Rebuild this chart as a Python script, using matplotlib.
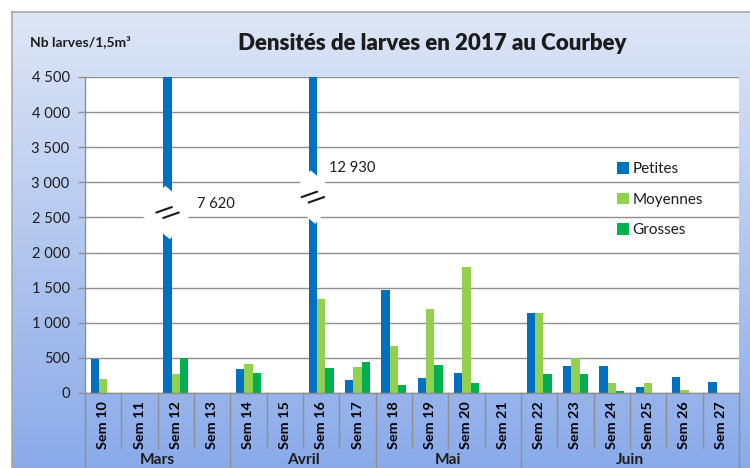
import numpy as np
import matplotlib
matplotlib.use("Agg")
import matplotlib.pyplot as plt
from matplotlib.patches import Polygon
from matplotlib.lines import Line2D
import matplotlib.transforms as mtransforms

# ---- data -------------------------------------------------------------
weeks = ["Sem 10", "Sem 11", "Sem 12", "Sem 13", "Sem 14", "Sem 15",
         "Sem 16", "Sem 17", "Sem 18", "Sem 19", "Sem 20", "Sem 21",
         "Sem 22", "Sem 23", "Sem 24", "Sem 25", "Sem 26", "Sem 27"]
months = ["Mars", "Avril", "Mai", "Juin"]
weeks_per_month = [4, 4, 4, 6]

series_names = ["Petites", "Moyennes", "Grosses"]
petites = [490, 0, 7620, 0, 340, 0, 12930, 180, 1470, 215, 290, 0,
           1140, 380, 380, 85, 230, 160]
moyennes = [195, 0, 265, 0, 415, 0, 1340, 375, 670, 1190, 1800, 0,
            1140, 505, 140, 140, 45, 0]
grosses = [0, 0, 505, 0, 290, 0, 360, 435, 120, 400, 140, 0,
           270, 270, 30, 0, 0, 0]

y_ticks = [0, 500, 1000, 1500, 2000, 2500, 3000, 3500, 4000, 4500]
y_max = 4500

title = "Densités de larves en 2017 au Courbey"
y_unit = "Nb larves/1,5m³"

# ---- style ------------------------------------------------------------
colors = ["#0070C0", "#92D050", "#00B050"]
FONT = ["Lato", "DejaVu Sans"]
plt.rcParams["font.family"] = FONT
TXT = "#1c1c1c"
GRID = "#8f8f8f"

W, H = 750, 468
fig = plt.figure(figsize=(W / 100, H / 100), dpi=100)
fig.patch.set_facecolor("white")

# chart frame with vertical blue gradient
bg = fig.add_axes([12 / W, 0, 1 - 12 / W, 1 - 12 / H])
top_c = np.array([222, 230, 246]) / 255
bot_c = np.array([138, 170, 233]) / 255
t = np.linspace(0, 1, 256)[:, None]
grad = top_c[None, :] * (1 - t) + bot_c[None, :] * t
bg.imshow(grad[:, None, :], aspect="auto", extent=[0, 1, 0, 1],
          interpolation="bilinear")
bg.set_axis_off()
fig.add_artist(Line2D([12 / W, 12 / W], [0, 1 - 12 / H], color="#a9a9a9",
                      lw=1.2))
fig.add_artist(Line2D([12 / W, 1], [1 - 12 / H, 1 - 12 / H], color="#a9a9a9",
                      lw=1.2))

# plotting area
L, R, T, B = 85, 739, 77, 393
ax = fig.add_axes([L / W, 1 - B / H, (R - L) / W, (B - T) / H])
ax.set_facecolor("white")

n = len(weeks)
x = np.arange(n)
bw = 0.228
series = [petites, moyennes, grosses]
offsets = [-bw, 0, bw]
for vals, name, col, off in zip(series, series_names, colors, offsets):
    ax.bar(x + off, vals, width=bw, color=col, label=name, zorder=2,
           linewidth=0)

ax.set_xlim(-0.5, n - 0.5)
ax.set_ylim(0, y_max)
ax.set_yticks(y_ticks)
ax.set_yticklabels([f"{v:,}".replace(",", " ") for v in y_ticks],
                   fontsize=10.6, color=TXT)
ax.tick_params(axis="y", direction="out", length=5, width=1, color=GRID,
               pad=6.0)
ax.set_axisbelow(True)
ax.yaxis.grid(True, color=GRID, lw=1.0)
for s in ["top", "right"]:
    ax.spines[s].set_visible(False)
for s in ["left", "bottom"]:
    ax.spines[s].set_color(GRID)
    ax.spines[s].set_linewidth(1.0)

ax.set_xticks(x)
ax.set_xticklabels(weeks, rotation=90, fontsize=10.4, fontweight="bold",
                   color="black", va="top", ha="center")
ax.tick_params(axis="x", length=0, pad=6.0)

# category and month separators under the axis
xt = ax.get_xaxis_transform()
month_edges = np.cumsum([0] + weeks_per_month)
short_y = -(448 - B) / (B - T)
long_y = -(H - B) / (B - T)
for b in range(n + 1):
    y_end = long_y if b in month_edges else short_y
    ax.add_line(Line2D([b - 0.5, b - 0.5], [0, y_end], transform=xt,
                       color=GRID, lw=1.0, clip_on=False))
month_y = -(460 - B) / (B - T)
for i, m in enumerate(months):
    c = (month_edges[i] + month_edges[i + 1]) / 2 - 0.5
    ax.text(c, month_y, m, transform=xt, ha="center", va="center",
            fontsize=11.2, fontweight="bold", color=TXT)


# broken bars for values beyond the axis
def px_transform(xd, yd):
    return mtransforms.Affine2D() + mtransforms.ScaledTranslation(
        xd, yd, ax.transData)


def draw_break(idx, level, dx, dy):
    xc = x[idx] + offsets[0]
    tr = px_transform(xc, level)
    ang = np.deg2rad(-40)
    u = np.array([np.cos(ang), np.sin(ang)])
    v = np.array([-np.sin(ang), np.cos(ang)])
    a, b = 19, 19
    pts = [a * u + b * v, a * u - b * v, -a * u - b * v, -a * u + b * v]
    ax.add_patch(Polygon(pts, closed=True, transform=tr, facecolor="white",
                         edgecolor="none", zorder=3, clip_on=False))
    hv = np.array([8.5, 3.0])
    for cx, cy in [(-3.5, 2.7), (3.5, -2.7)]:
        c = np.array([cx, cy])
        p0, p1 = c - hv, c + hv
        ax.add_line(Line2D([p0[0], p1[0]], [p0[1], p1[1]], transform=tr,
                           color="#1a1a1a", lw=1.5, zorder=4,
                           solid_capstyle="butt", clip_on=False))
    val = petites[idx]
    ax.text(dx, dy, f"{val:,}".replace(",", " "), transform=tr,
            ha="left", va="center", fontsize=10.6, color=TXT, zorder=5)


draw_break(2, 2570, 29.5, 8.5)
draw_break(6, 2790, 16, 29)

# legend
leg = ax.legend(loc="upper left", bbox_to_anchor=(617 / W, 1 - 162 / H),
                bbox_transform=fig.transFigure, frameon=False, fontsize=11,
                handlelength=0.8, handleheight=0.8, handletextpad=0.22,
                labelspacing=1.08, borderpad=0, borderaxespad=0)
for txt in leg.get_texts():
    txt.set_color(TXT)

# titles
fig.text(432 / W, 1 - 43 / H, title, ha="center", va="center",
         fontsize=16, fontweight="heavy", color=TXT)
fig.text(30 / W, 1 - 42 / H, y_unit, ha="left", va="center",
         fontsize=10, fontweight="bold", color=TXT)

fig.savefig("out.png", dpi=100)
